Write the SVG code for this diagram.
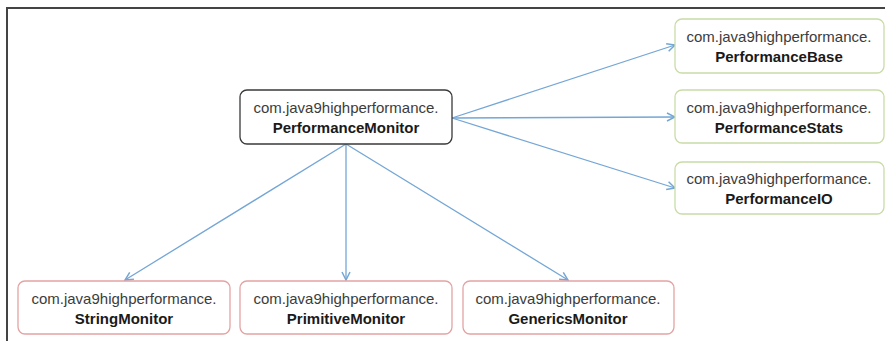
<svg xmlns="http://www.w3.org/2000/svg" width="885" height="341" viewBox="0 0 885 341">
<defs>
<style>
.box{fill:#fff;stroke-width:1.3}
.main{stroke:#3a3a3a}
.green{stroke:#c9dca8}
.red{stroke:#e4a3a3}
.t1{font-family:"Liberation Sans",Arial,sans-serif;font-size:15px;fill:#3c3c3c;text-anchor:middle}
.t2{font-family:"Liberation Sans",Arial,sans-serif;font-size:15px;font-weight:bold;fill:#1a1a1a;text-anchor:middle}
.conn{stroke:#74a6d6;stroke-width:1.3;fill:none;marker-end:url(#arr)}
</style>
<marker id="arr" viewBox="0 0 10 10" refX="9" refY="5" markerWidth="10" markerHeight="10" markerUnits="userSpaceOnUse" orient="auto">
<path d="M1,1 L9,5 L1,9" fill="none" stroke="#74a6d6" stroke-width="1.5"/>
</marker>
</defs>
<rect width="885" height="341" fill="#fff"/>
<path d="M7,341 V8 H885" fill="none" stroke="#444" stroke-width="2"/>
<g id="connectors">
<line class="conn" x1="452" y1="118" x2="675" y2="45"/>
<line class="conn" x1="452" y1="118" x2="675" y2="117"/>
<line class="conn" x1="452" y1="118" x2="675" y2="188"/>
<line class="conn" x1="346" y1="144" x2="125" y2="280"/>
<line class="conn" x1="346" y1="144" x2="346" y2="280"/>
<line class="conn" x1="346" y1="144" x2="568" y2="280"/>
</g>
<g id="PerformanceMonitor">
<rect class="box main" x="240" y="90" width="212" height="54" rx="7"/>
<text class="t1" x="346" y="113">com.java9highperformance.</text>
<text class="t2" x="346" y="133">PerformanceMonitor</text>
</g>
<g id="PerformanceBase">
<rect class="box green" x="675" y="19" width="209" height="54" rx="7"/>
<text class="t1" x="779" y="42">com.java9highperformance.</text>
<text class="t2" x="779" y="62">PerformanceBase</text>
</g>
<g id="PerformanceStats">
<rect class="box green" x="675" y="90" width="209" height="53" rx="7"/>
<text class="t1" x="779" y="113">com.java9highperformance.</text>
<text class="t2" x="779" y="133">PerformanceStats</text>
</g>
<g id="PerformanceIO">
<rect class="box green" x="675" y="162" width="209" height="52" rx="7"/>
<text class="t1" x="779" y="184">com.java9highperformance.</text>
<text class="t2" x="779" y="204">PerformanceIO</text>
</g>
<g id="StringMonitor">
<rect class="box red" x="18" y="281" width="212" height="53" rx="7"/>
<text class="t1" x="124" y="304">com.java9highperformance.</text>
<text class="t2" x="124" y="324">StringMonitor</text>
</g>
<g id="PrimitiveMonitor">
<rect class="box red" x="240" y="281" width="212" height="53" rx="7"/>
<text class="t1" x="346" y="304">com.java9highperformance.</text>
<text class="t2" x="346" y="324">PrimitiveMonitor</text>
</g>
<g id="GenericsMonitor">
<rect class="box red" x="463" y="281" width="211" height="53" rx="7"/>
<text class="t1" x="568" y="304">com.java9highperformance.</text>
<text class="t2" x="568" y="324">GenericsMonitor</text>
</g>
</svg>
